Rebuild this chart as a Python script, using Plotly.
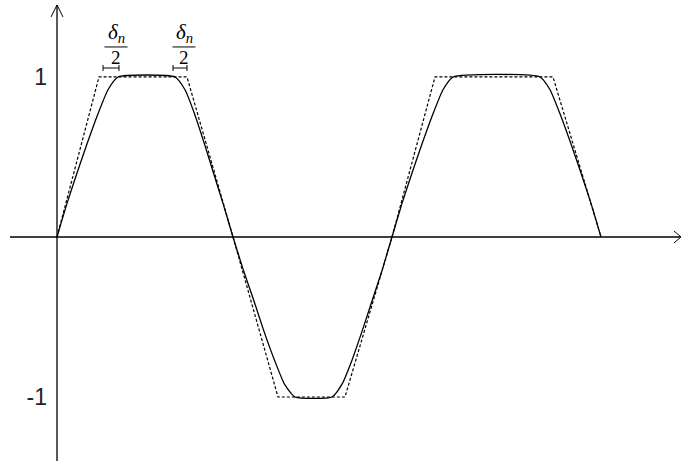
import plotly.graph_objects as go

INK = "#000000"

# dashed trapezoid (ideal switching function)
trap_t = [0, 4.2, 13.0, 17.6, 22.1, 28.8, 33.5, 37.8, 49.6, 54.4]
trap_y = [0, 1, 1, 0, -1, -1, 0, 1, 1, 0]

# solid smoothed waveform
wave_t = [0, 1.0, 2.0, 3.05, 4.1, 5.1, 6.1,
          11.8, 12.8, 13.75, 14.7, 15.65, 16.6, 17.6,
          18.65, 19.7, 20.7, 21.75, 22.75, 23.8,
          27.5, 28.5, 29.5, 30.5, 31.5, 32.5, 33.5,
          34.5, 35.5, 36.55, 37.6, 38.6, 39.6,
          48.3, 49.3, 50.3, 51.35, 52.4, 53.4, 54.4]
wave_y = [0, 0.21, 0.40, 0.59, 0.77, 0.92, 1,
          1, 0.92, 0.77, 0.59, 0.40, 0.21, 0,
          -0.21, -0.40, -0.59, -0.77, -0.92, -1,
          -1, -0.92, -0.77, -0.59, -0.40, -0.21, 0,
          0.21, 0.40, 0.59, 0.77, 0.92, 1,
          1, 0.92, 0.77, 0.59, 0.40, 0.21, 0]

# delta_n / 2 brackets: (start, end) on the t axis, and label centres
brackets = [(4.6, 6.2), (11.6, 13.0)]
label_t = [5.9, 12.7]
ytick_vals = [1, -1]
ytick_text = ["1", "-1"]

X_RANGE = [-5.7, 62.5]
Y_RANGE = [-1.4, 1.481]

fig = go.Figure()
fig.add_scatter(x=trap_t, y=trap_y, mode="lines", showlegend=False,
                hoverinfo="skip",
                line=dict(color=INK, width=1.2, dash="3px,2px"))
fig.add_scatter(x=wave_t, y=wave_y, mode="lines", showlegend=False,
                hoverinfo="skip",
                line=dict(color=INK, width=1.3, shape="spline", smoothing=0.5))

axis_line = dict(color=INK, width=1.3)
thin = dict(color=INK, width=1)
shapes = [
    dict(type="line", x0=X_RANGE[0] + 1.0, x1=62.3, y0=0, y1=0, line=axis_line),
    dict(type="line", x0=0, x1=0, y0=Y_RANGE[0], y1=1.45, line=axis_line),
    # open arrow heads
    dict(type="line", x0=-0.6, x1=0, y0=1.375, y1=1.45, line=thin),
    dict(type="line", x0=0.6, x1=0, y0=1.375, y1=1.45, line=thin),
    dict(type="line", x0=61.7, x1=62.4, y0=0.0375, y1=0, line=thin),
    dict(type="line", x0=61.7, x1=62.4, y0=-0.0375, y1=0, line=thin),
]
annotations = []
for (a, b), mid in zip(brackets, label_t):
    shapes.append(dict(type="line", x0=a, x1=b, y0=1.056, y1=1.056, line=thin))
    for e in (a, b):
        shapes.append(dict(type="line", x0=e, x1=e, y0=1.037, y1=1.075, line=thin))
    shapes.append(dict(type="line", x0=mid - 1.15, x1=mid + 1.15,
                       y0=1.1875, y1=1.1875, line=thin))
    annotations.append(dict(x=mid, y=1.19, text="<i>δ</i><sub><i>n</i></sub>",
                            showarrow=False, yanchor="bottom", yshift=-1,
                            font=dict(family="Liberation Serif", size=21, color=INK)))
    annotations.append(dict(x=mid, y=1.185, text="2", showarrow=False,
                            yanchor="top", yshift=2,
                            font=dict(family="Liberation Serif", size=19, color=INK)))

fig.update_layout(
    width=682, height=461, margin=dict(l=0, r=0, t=0, b=0),
    paper_bgcolor="white", plot_bgcolor="white",
    shapes=shapes, annotations=annotations,
    xaxis=dict(range=X_RANGE, visible=False, showgrid=False, zeroline=False),
    yaxis=dict(range=Y_RANGE, showgrid=False, zeroline=False, showline=False,
               anchor="free", position=57 / 682, side="left",
               tickvals=ytick_vals, ticktext=ytick_text, ticks="",
               ticklabelstandoff=10,
               tickfont=dict(family="Liberation Sans", size=23, color="#222")),
)

fig.write_html("out.html", config={"displayModeBar": False},
               post_script="document.body.style.margin='0';")
